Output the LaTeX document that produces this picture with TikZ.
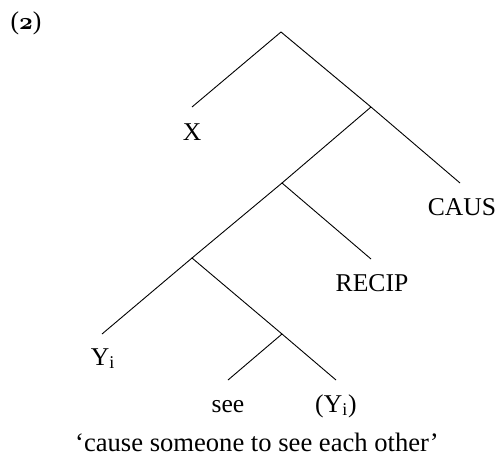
\documentclass[tikz,border=0pt]{standalone}
\usepackage{fontspec}
\setmainfont{Liberation Serif}
\begin{document}
\begin{tikzpicture}[x=0.5pt,y=-0.5pt,
  lbl/.style={font=\fontsize{12.8}{15}\selectfont, inner sep=0pt, anchor=base},
  branch/.style={line width=0.45pt}]
\useasboundingbox (0,0) rectangle (497,456);
% internal nodes
\coordinate (root) at (281,32);
\coordinate (n1) at (371,107);
\coordinate (n2) at (282,183);
\coordinate (n3) at (192,258);
\coordinate (n4) at (282,334);
% leaf ends
\coordinate (xe) at (192,107);
\coordinate (ce) at (460,183);
\coordinate (re) at (371,259);
\coordinate (ye) at (102,334);
\coordinate (se) at (228,380);
\coordinate (pe) at (336,380);
% labels
\node[lbl] (num) at (26,29) {({\usefont{OML}{cmm}{b}{it}2})};
\node[lbl] (x) at (192,140) {X};
\node[lbl] (caus) at (462,215) {CAUS};
\node[lbl] (recip) at (372,291) {RECIP};
\node[lbl] (y) at (103,365) {Y\textsubscript{i}};
\node[lbl] (see) at (228,412) {see};
\node[lbl] (py) at (336,412) {(Y\textsubscript{i})};
\node[lbl, font=\fontsize{13.3}{16}\selectfont] (cap) at (257,451) {‘cause someone to see each other’};
% branches
\draw[branch] (xe) -- (root) -- (n1) -- (ce);
\draw[branch] (n1) -- (n2) -- (re);
\draw[branch] (n2) -- (n3) -- (n4);
\draw[branch] (n3) -- (ye);
\draw[branch] (se) -- (n4) -- (pe);
\end{tikzpicture}
\end{document}
